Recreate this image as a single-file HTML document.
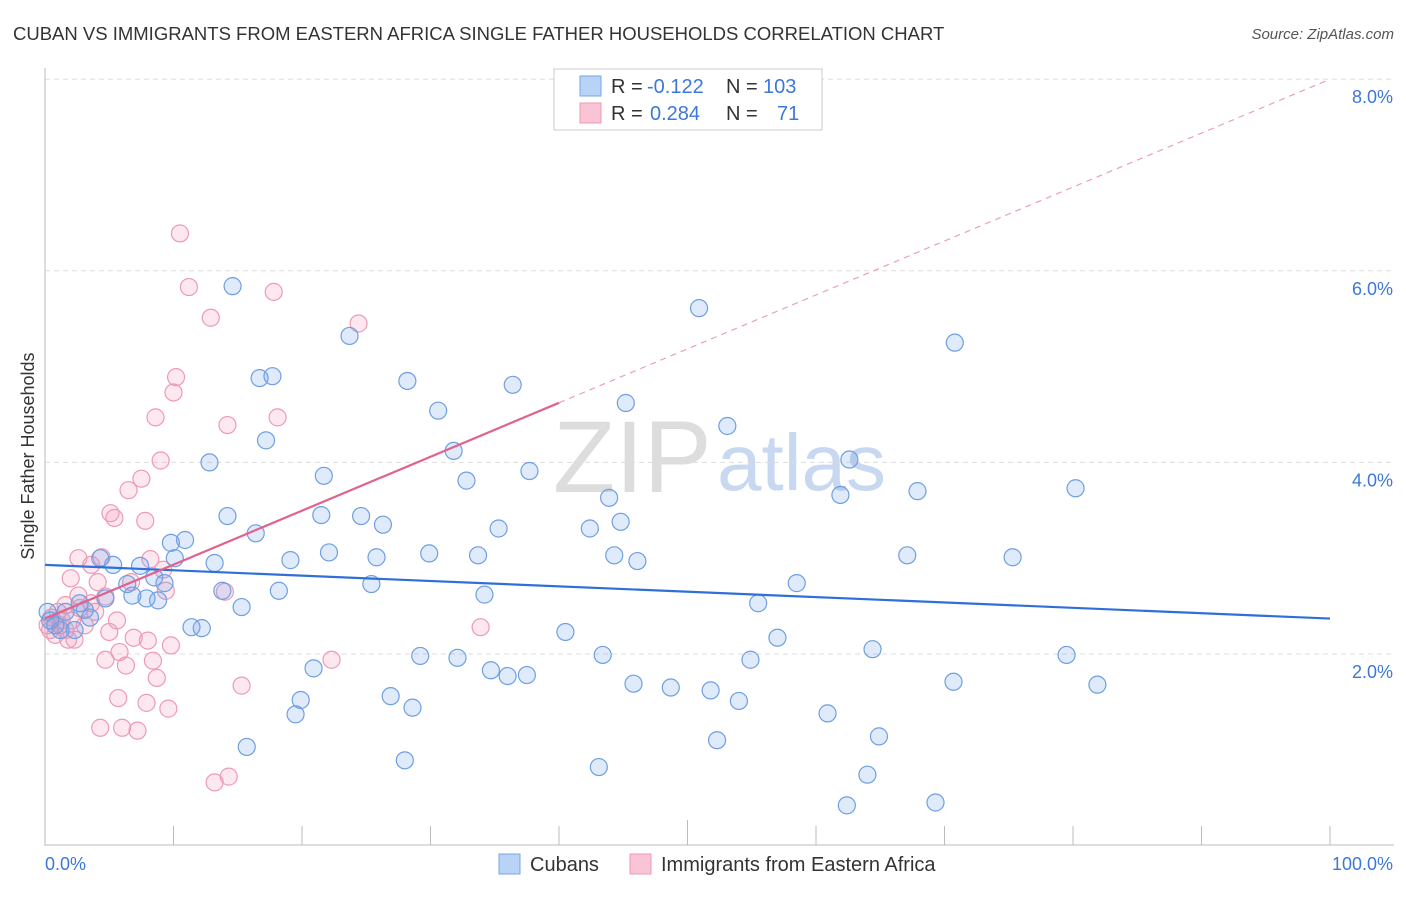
<!DOCTYPE html>
<html><head><meta charset="utf-8"><style>
body{margin:0;background:#fff;font-family:"Liberation Sans",sans-serif;}
svg text{font-family:"Liberation Sans",sans-serif;}
</style></head><body>
<svg id="chart" width="1406" height="892" viewBox="0 0 1406 892" xmlns="http://www.w3.org/2000/svg">
<text x="13" y="40" font-size="18.5" fill="#333">CUBAN VS IMMIGRANTS FROM EASTERN AFRICA SINGLE FATHER HOUSEHOLDS CORRELATION CHART</text>
<text x="1394" y="39" font-size="15" fill="#555" text-anchor="end" font-style="italic">Source: ZipAtlas.com</text>
<text transform="translate(34,456) rotate(-90)" font-size="18" fill="#333" text-anchor="middle">Single Father Households</text>
<g>
<text x="553" y="492" font-size="102" fill="#ddd" font-family="Liberation Serif,serif">ZIP</text>
<text x="717" y="490" font-size="80" fill="#c8d8f0">atlas</text>
</g>
<g id="grid"></g>
<g id="axes"></g>
<g id="pinkpts"></g>
<g id="bluepts"></g>
<g id="trends"></g>
<g>
<rect x="554" y="69" width="268" height="61" fill="#fff" stroke="#ccc"/>
<rect x="580" y="76" width="21" height="20" fill="#b8d3f5" stroke="#7aa6e6"/>
<rect x="580" y="103" width="21" height="20" fill="#f9c4d4" stroke="#ee9ab4"/>
<text x="611" y="93" font-size="20" fill="#333">R =</text>
<text x="647" y="93" font-size="20" fill="#3c78d8">-0.122</text>
<text x="726" y="93" font-size="20" fill="#333">N =</text>
<text x="763" y="93" font-size="20" fill="#3c78d8">103</text>
<text x="611" y="120" font-size="20" fill="#333">R =</text>
<text x="650" y="120" font-size="20" fill="#3c78d8">0.284</text>
<text x="726" y="120" font-size="20" fill="#333">N =</text>
<text x="777" y="120" font-size="20" fill="#3c78d8">71</text>
</g>
<g>
<rect x="499" y="854" width="21" height="20" fill="#b8d3f5" stroke="#7aa6e6"/>
<text x="530" y="871" font-size="20" fill="#333">Cubans</text>
<rect x="630" y="854" width="21" height="20" fill="#f9c4d4" stroke="#ee9ab4"/>
<text x="661" y="871" font-size="20" fill="#333">Immigrants from Eastern Africa</text>
</g>
</svg>
<script>
const yTicks=[2,4,6,8];
const yTickLabels=["2.0%","4.0%","6.0%","8.0%"];
const xTickLabels=["0.0%","100.0%"];
const blueX=[14.6,50.9,23.7,70.8,16.7,17.7,28.2,36.4,30.6,45.2,17.2,53.1,31.8,12.8,62.6,21.7,32.8,37.7,61.9,67.9,80.2,43.9,14.2,21.5,24.6,35.3,26.3,42.4,44.8,16.4,9.8,10.9,22.1,10.1,13.2,19.1,25.8,29.9,33.7,44.3,46.1,67.1,75.3,5.3,7.4,4.3,8.5,9.3,6.4,58.5,13.8,18.2,25.4,6.8,7.9,8.8,4.7,34.2,15.3,55.5,40.5,11.4,12.2,57.0,64.4,29.2,32.1,43.4,79.5,54.9,20.9,34.7,36.0,37.5,45.8,48.7,51.8,70.7,81.9,26.9,19.9,28.6,54.0,19.5,60.9,64.9,52.3,15.7,28.0,43.1,64.0,62.4,69.3,2.7,1.6,0.8,2.3,3.5,0.4,1.2,0.2,3.1];
const blueY=[5.84,5.61,5.32,5.25,4.88,4.90,4.85,4.81,4.54,4.62,4.23,4.38,4.12,4.00,4.03,3.86,3.81,3.91,3.66,3.70,3.73,3.63,3.44,3.45,3.44,3.31,3.35,3.31,3.38,3.26,3.16,3.19,3.06,3.00,2.95,2.98,3.01,3.05,3.03,3.03,2.97,3.03,3.01,2.93,2.92,3.00,2.80,2.74,2.73,2.74,2.66,2.66,2.73,2.61,2.58,2.56,2.58,2.62,2.49,2.53,2.23,2.28,2.27,2.17,2.05,1.98,1.96,1.99,1.99,1.94,1.85,1.83,1.77,1.78,1.69,1.65,1.62,1.71,1.68,1.56,1.52,1.44,1.51,1.37,1.38,1.14,1.10,1.03,0.89,0.82,0.74,0.42,0.45,2.53,2.44,2.30,2.25,2.38,2.35,2.25,2.44,2.46];
const pinkX=[10.5,11.2,17.8,12.9,24.4,10.2,10.0,8.6,18.1,14.2,9.0,7.5,6.5,5.1,5.4,7.8,2.6,4.4,8.2,2.0,4.1,3.6,9.2,6.7,9.4,2.6,4.7,3.6,5.6,2.7,3.9,14.0,33.9,2.1,1.6,5.0,6.9,8.0,9.8,1.3,1.8,5.8,4.7,8.4,6.3,22.3,8.7,15.3,5.7,7.9,9.6,4.3,6.0,7.2,13.2,14.3,0.5,0.2,1.0,1.6,0.8,3.1,2.3,1.2,0.4];
const pinkY=[6.39,5.83,5.78,5.51,5.45,4.89,4.73,4.47,4.47,4.39,4.02,3.83,3.71,3.47,3.42,3.39,3.00,3.01,2.99,2.79,2.75,2.93,2.88,2.75,2.66,2.61,2.60,2.53,2.35,2.48,2.44,2.65,2.28,2.35,2.25,2.23,2.17,2.14,2.09,2.35,2.15,2.02,1.94,1.93,1.88,1.94,1.75,1.67,1.54,1.49,1.43,1.23,1.23,1.20,0.66,0.72,2.38,2.30,2.44,2.51,2.20,2.30,2.15,2.30,2.25];
const blueTrend=[2.93,2.37];
const pinkTrend=[2.37,8.0];
const pinkSolidEnd=40;

const NS="http://www.w3.org/2000/svg";
const X0=45,X1=1330,Y0=845.6,YS=95.8;
const sx=v=>X0+(X1-X0)*v/100;
const sy=v=>Y0-v*YS;
function mk(tag,attrs,parent){const e=document.createElementNS(NS,tag);for(const k in attrs)e.setAttribute(k,attrs[k]);parent.appendChild(e);return e;}
const grid=document.getElementById('grid'),axes=document.getElementById('axes');
yTicks.forEach((t,i)=>{
  const l=mk('line',{x1:X0,x2:1394,y1:sy(t),y2:sy(t),stroke:'#ddd','stroke-dasharray':'5,4'},grid);
  
  
  const tx=mk('text',{x:1393,y:sy(t)+24,'font-size':18,fill:'#3c78d8','text-anchor':'end'},axes);
  tx.textContent=yTickLabels[i];
  
  
});
const ya=mk('line',{x1:X0,x2:X0,y1:68,y2:846,stroke:'#bbb'},axes);


const xa=mk('line',{x1:X0,x2:1394,y1:845,y2:845,stroke:'#bbb'},axes);


for(let i=0;i<=10;i++){
  const tk=mk('line',{x1:sx(i*10),x2:sx(i*10),y1:(i==5?820:826),y2:845,stroke:'#bbb'},axes);
  
  
}
[[0,'start',45],[100,'end',1393]].forEach((d,i)=>{
  const t=mk('text',{x:d[2],y:870,'font-size':18,fill:'#3c78d8','text-anchor':d[1]},axes);
  t.textContent=xTickLabels[i];
  
  
});
const pg=document.getElementById('pinkpts');
pinkX.forEach((x,i)=>{
  const c=mk('circle',{cx:sx(x),cy:sy(pinkY[i]),r:8.5,fill:'rgba(245,150,180,0.22)',stroke:'#ee9ab4','stroke-width':1.2},pg);
  
  
});
const bg=document.getElementById('bluepts');
blueX.forEach((x,i)=>{
  const c=mk('circle',{cx:sx(x),cy:sy(blueY[i]),r:8.5,fill:'rgba(110,160,235,0.22)',stroke:'#6f9fe2','stroke-width':1.2},bg);
  
  
});
const tg=document.getElementById('trends');
const bt=mk('line',{x1:sx(0),y1:sy(blueTrend[0]),x2:sx(100),y2:sy(blueTrend[1]),stroke:'#2f6fd8','stroke-width':2.2},tg);


const pAt=x=>pinkTrend[0]+(pinkTrend[1]-pinkTrend[0])*x/100;
const pd=mk('line',{x1:sx(pinkSolidEnd),y1:sy(pAt(pinkSolidEnd)),x2:sx(100),y2:sy(pAt(100)),stroke:'#eaa0b8','stroke-width':1.2,'stroke-dasharray':'6,5'},tg);


const ps=mk('line',{x1:sx(0),y1:sy(pAt(0)),x2:sx(pinkSolidEnd),y2:sy(pAt(pinkSolidEnd)),stroke:'#e0628e','stroke-width':2.2},tg);


</script>
</body></html>
